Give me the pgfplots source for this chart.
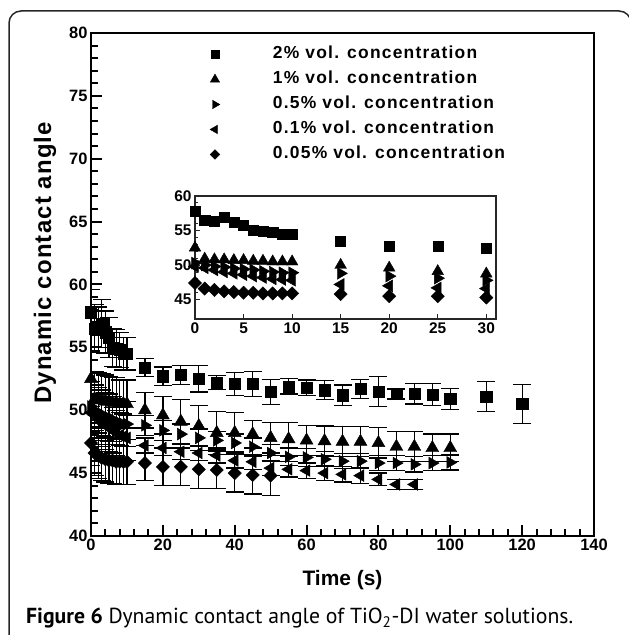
\documentclass[border=0pt]{standalone}
\usepackage{fontspec}
\setmainfont{Liberation Sans}
\newfontfamily\capfont{PT Sans}
\usepackage{pgfplots}
\pgfplotsset{compat=1.18}
\usepackage{pgfplotstable}

\pgfplotstableread{
t y e
0 57.8 1.8
1 56.5 1.9
2 56.4 1.8
3 56.9 1.9
4 56.2 1.7
5 55.8 1.6
6 55.0 1.5
7 54.9 1.5
8 54.8 1.4
9 54.5 1.3
10 54.5 1.3
15 53.4 0.7
20 52.7 0.75
25 52.8 0.75
30 52.5 1.05
35 52.2 0.55
40 52.1 0.9
45 52.1 1.0
50 51.45 1.0
55 51.9 0.6
60 51.8 0.6
65 51.6 0.75
70 51.2 0.8
75 51.7 0.75
80 51.5 1.2
85 51.3 0.4
90 51.3 0.8
95 51.25 0.9
100 50.9 0.85
110 51.1 1.2
120 50.5 1.55
}\dataA

\pgfplotstableread{
t y e
0 52.5 2.2
1 50.9 2.2
2 50.8 2.2
3 50.8 2.1
4 50.7 2.1
5 50.7 2.0
6 50.6 2.0
7 50.6 2.0
8 50.5 1.9
9 50.5 1.9
10 50.5 1.9
15 50.0 1.4
20 49.6 1.5
25 49.1 1.75
30 48.75 1.6
35 48.2 1.7
40 48.2 1.6
45 48.1 1.1
50 47.8 1.2
55 47.7 1.35
60 47.6 1.2
65 47.55 1.2
70 47.5 1.2
75 47.5 1.2
80 47.4 1.2
85 47.1 1.2
90 47.1 1.2
95 47.0 1.1
100 47.0 1.1
}\dataB

\pgfplotstableread{
t y e
0 50.3 2.0
1 50.0 2.0
2 49.8 2.0
3 49.7 1.9
4 49.5 1.9
5 49.4 1.9
6 49.3 1.8
7 49.1 1.8
8 49.0 1.8
9 48.9 1.8
10 48.9 1.8
15 48.8 0.8
20 48.4 0.8
25 48.1 0.8
30 47.8 0.7
35 47.6 0.7
40 47.4 0.7
45 47.1 0.7
50 46.6 0.7
55 46.3 0.7
60 46.25 0.7
65 46.1 0.6
70 45.95 0.6
75 45.95 0.6
80 45.8 0.6
85 45.8 0.6
90 45.7 0.6
95 45.8 0.6
100 45.85 0.6
}\dataC

\pgfplotstableread{
t y e
0 49.8 2.0
1 49.6 2.0
2 49.3 2.0
3 49.0 1.9
4 48.8 1.9
5 48.6 1.9
6 48.4 1.8
7 48.2 1.8
8 48.0 1.8
9 47.9 1.8
10 47.8 1.8
15 47.2 0.6
20 47.0 0.6
25 46.7 0.6
30 46.6 0.6
35 46.4 0.6
40 46.0 0.6
45 45.9 0.6
50 45.4 0.6
55 45.3 0.6
60 45.2 0.6
65 45.0 0.6
70 44.9 0.6
75 44.8 0.6
80 44.5 0.5
85 44.1 0.4
90 44.1 0.4
}\dataD

\pgfplotstableread{
t y e
0 47.4 1.8
1 46.6 1.8
2 46.4 1.8
3 46.2 1.8
4 46.1 1.8
5 46.0 1.8
6 46.0 1.8
7 45.9 1.8
8 45.9 1.8
9 45.9 1.8
10 45.9 1.8
15 45.8 1.4
20 45.5 1.5
25 45.5 1.5
30 45.3 1.5
35 45.25 1.5
40 45.0 1.5
45 44.85 1.5
50 44.8 1.6
}\dataE

\pgfplotsset{
  ebars/.style={
    error bars/.cd, y dir=both, y explicit,
    error bar style={line width=1.3bp, black},
    error mark options={rotate=90, mark size=9bp, line width=1.3bp, black}},
  sqA/.style={only marks, black, mark=square*, mark size=5.6bp},
  trB/.style={only marks, black, mark=triangle*, mark size=7.5bp},
  trC/.style={only marks, black, mark=triangle*, mark size=6.8bp, mark options={rotate=-90}},
  trD/.style={only marks, black, mark=triangle*, mark size=6.8bp, mark options={rotate=90}},
  dmE/.style={only marks, black, mark=square*, mark size=4.7bp, mark options={rotate=45}},
}

\begin{document}
\begin{tikzpicture}[x=1bp,y=1bp]
\useasboundingbox (0,0) rectangle (629,635);
\draw[line width=1.5bp, black!85, rounded corners=12bp] (9,-10) -- (9,624) -- (631,624) -- (631,-10);

\begin{axis}[
  at={(91bp,99bp)}, anchor=south west,
  scale only axis, width=503bp, height=503bp,
  xmin=0, xmax=140, ymin=40, ymax=80,
  xtick={0,20,...,140}, ytick={40,45,...,80},
  minor x tick num=4, minor y tick num=4,
  tick align=inside, tick pos=left,
  axis line style={line width=2bp},
  every tick/.style={line width=2bp, black},
  major tick length=11bp, minor tick length=7bp,
  /pgf/number format/assume math mode=true,
  tick label style={font=\fontsize{16.5}{16.5}\selectfont\bfseries},
  xlabel={Time (s)},
  ylabel={Dynamic contact angle},
  x label style={at={(axis description cs:0.5,0)}, anchor=center, yshift=-44bp,
    font=\fontsize{21}{21}\selectfont\bfseries},
  y label style={at={(axis description cs:-0.0915,0.543)}, anchor=center,
    font=\fontsize{24}{24}\selectfont\bfseries\addfontfeatures{LetterSpace=5}},
]
\addplot[dmE, ebars] table[x=t, y=y, y error=e] {\dataE};
\addplot[trD, ebars] table[x=t, y=y, y error=e] {\dataD};
\addplot[trC, ebars] table[x=t, y=y, y error=e] {\dataC};
\addplot[trB, ebars] table[x=t, y=y, y error=e] {\dataB};
\addplot[sqA, ebars] table[x=t, y=y, y error=e] {\dataA};
\end{axis}

% overlay axis holding the legend (same frame as the main axis)
\begin{axis}[
  at={(91bp,99bp)}, anchor=south west,
  scale only axis, width=503bp, height=503bp,
  xmin=0, xmax=140, ymin=40, ymax=80,
  hide axis,
  legend cell align=left,
  legend image code/.code={\path[draw=none,fill=none] (-10bp,-6bp) rectangle (58bp,6bp);
    \draw[#1,/tikz/every mark/.append style={scale=0.72}] plot coordinates {(0bp,0bp)};},
  legend style={draw=none, fill=none, at={(0.2266,0.9732)}, anchor=north west,
    inner sep=0pt, outer sep=0pt, row sep=9bp,
    font=\fontsize{17.5}{17.5}\selectfont\bfseries\addfontfeatures{LetterSpace=7},
    nodes={inner sep=0pt, text height=12.5bp, text depth=3.5bp}},
]
\addlegendimage{sqA}
\addlegendentry{2\% vol. concentration}
\addlegendimage{trB}
\addlegendentry{1\% vol. concentration}
\addlegendimage{trC}
\addlegendentry{0.5\% vol. concentration}
\addlegendimage{trD}
\addlegendentry{0.1\% vol. concentration}
\addlegendimage{dmE}
\addlegendentry{0.05\% vol. concentration}
\end{axis}

\begin{axis}[
  at={(195bp,316bp)}, anchor=south west,
  scale only axis, width=301bp, height=123bp,
  xmin=0, xmax=31, ymin=42.2, ymax=60,
  xtick={0,5,...,30}, ytick={45,50,55,60},
  minor y tick num=4,
  tick align=inside, tick pos=left,
  axis line style={line width=1.2bp, black!85},
  every tick/.style={line width=1bp, black!85},
  major tick length=5bp, minor tick length=3bp,
  /pgf/number format/assume math mode=true,
  tick label style={font=\fontsize{15.5}{15.5}\selectfont\bfseries},
  restrict x to domain=0:31,
  every axis plot/.append style={/tikz/every mark/.append style={scale=0.9}},
]
\addplot[dmE] table[x=t, y=y] {\dataE};
\addplot[trD] table[x=t, y=y] {\dataD};
\addplot[trC] table[x=t, y=y] {\dataC};
\addplot[trB] table[x=t, y=y] {\dataB};
\addplot[sqA] table[x=t, y=y] {\dataA};
\end{axis}

\node[anchor=base west, inner sep=0pt] at (26,11.5) {\resizebox{547bp}{!}{\capfont\fontsize{19}{19}\selectfont\textbf{Figure 6} Dynamic contact angle of TiO\textsubscript{2}-DI water solutions.}};
\end{tikzpicture}
\end{document}
